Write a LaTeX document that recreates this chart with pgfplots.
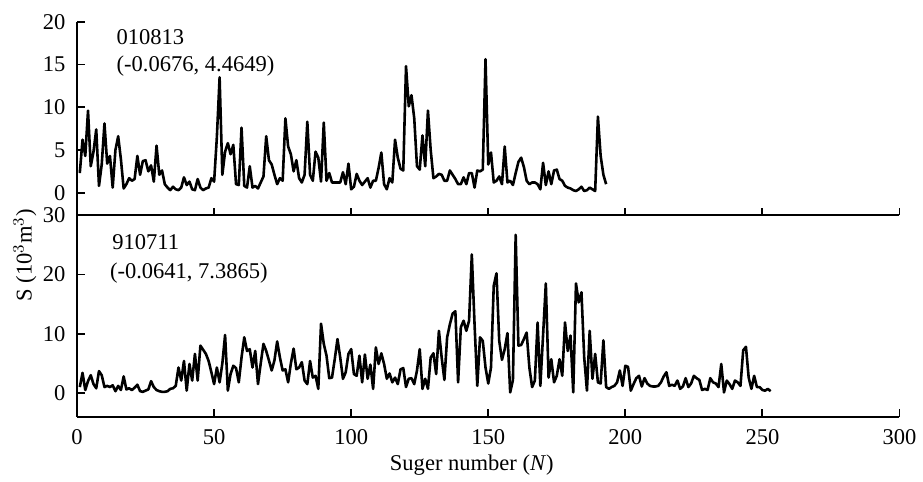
\documentclass[border=0pt]{standalone}
\usepackage{fontspec}
\setmainfont{Liberation Serif}
\usepackage{pgfplots}
\pgfplotsset{compat=1.18}
\pgfplotsset{
  common/.style={
    scale only axis, width=412.5pt,
    xmin=0, xmax=300,
    axis lines*=left,
    axis line style={line width=0.9pt},
    tick style={line width=0.9pt, black},
    tick align=inside,
    major tick length=3.75pt,
    xtick={0,50,...,300},
    /pgf/number format/assume math mode=true,
    tick label style={font=\fontsize{11.3}{13.5}\selectfont},
    label style={font=\fontsize{11.3}{13.5}\selectfont},
    yticklabel style={xshift=-2.3pt},
    xticklabel style={yshift=-2.8pt},
    clip=false,
  }
}
\begin{document}
\begin{tikzpicture}
\path (-38.65pt,-29.5pt) rectangle (422.85pt,209pt);
% bottom panel
\begin{axis}[common, at={(0,0)}, anchor=south west, height=101pt,
  ymin=-4, ymax=30, ytick={0,10,20,30},
  xlabel={Suger number (\textit{N})},
  xlabel style={at={(axis description cs:0.480,-0.240)}, anchor=center},
  ylabel={S (10$^{3}$m$^{3}$)},
  ylabel style={at={(axis description cs:-0.0635,0.802)}, anchor=center},
]
\addplot[black, line width=1.3pt, line join=round] coordinates {
(1,1.0)(2,3.4)(3,0.5)(4,2.0)(5,3.0)(6,1.5)(7,0.8)(8,3.7)(9,3.0)(10,1.0)
(11,1.2)(12,1.0)(13,1.3)(14,0.3)(15,1.2)(16,0.5)(17,2.8)(18,0.6)(19,0.8)(20,0.5)
(21,0.9)(22,1.4)(23,0.3)(24,0.2)(25,0.4)(26,0.6)(27,2.0)(28,1.0)(29,0.5)(30,0.3)
(31,0.2)(32,0.2)(33,0.3)(34,0.7)(35,0.8)(36,1.2)(37,4.3)(38,2.1)(39,5.4)(40,0.4)
(41,4.9)(42,2.1)(43,6.6)(44,2.1)(45,8.0)(46,7.3)(47,6.6)(48,5.4)(49,3.5)(50,1.5)
(51,4.3)(52,1.8)(53,5.0)(54,9.8)(55,0.4)(56,3.2)(57,4.6)(58,4.2)(59,1.8)(60,6.0)
(61,9.4)(62,7.1)(63,7.4)(64,4.3)(65,7.1)(66,1.5)(67,5.0)(68,8.3)(69,7.1)(70,5.5)
(71,3.8)(72,5.5)(73,8.7)(74,6.0)(75,3.8)(76,4.0)(77,1.8)(78,5.0)(79,7.5)(80,4.0)
(81,4.3)(82,5.2)(83,2.1)(84,1.5)(85,5.4)(86,2.6)(87,2.9)(88,0.7)(89,11.7)(90,8.3)
(91,6.3)(92,2.5)(93,2.6)(94,5.7)(95,9.1)(96,6.0)(97,2.4)(98,3.5)(99,6.6)(100,7.4)
(101,3.2)(102,2.9)(103,6.3)(104,1.8)(105,6.5)(106,2.4)(107,4.8)(108,0.7)(109,7.7)(110,4.9)
(111,6.7)(112,4.9)(113,2.4)(114,3.3)(115,1.8)(116,2.6)(117,1.5)(118,4.0)(119,4.2)(120,1.0)
(121,2.4)(122,2.5)(123,1.5)(124,3.8)(125,7.4)(126,0.7)(127,2.4)(128,0.7)(129,6.0)(130,6.7)
(131,3.2)(132,10.5)(133,6.0)(134,2.2)(135,9.4)(136,11.6)(137,13.4)(138,13.8)(139,1.8)(140,11.1)
(141,12.2)(142,10.5)(143,12.2)(144,23.4)(145,11.6)(146,1.2)(147,9.4)(148,8.8)(149,4.3)(150,1.6)
(151,4.3)(152,18.1)(153,20.2)(154,8.8)(155,5.6)(156,7.4)(157,10.1)(158,0.1)(159,2.2)(160,26.7)
(161,8.0)(162,8.1)(163,9.1)(164,10.2)(165,4.3)(166,1.0)(167,2.1)(168,11.9)(169,1.2)(170,9.8)
(171,18.5)(172,2.6)(173,5.7)(174,1.8)(175,2.9)(176,5.7)(177,2.9)(178,11.9)(179,7.1)(180,9.7)
(181,0.1)(182,18.5)(183,15.3)(184,17.0)(185,6.0)(186,0.4)(187,10.5)(188,2.4)(189,6.6)(190,1.8)
(191,1.6)(192,8.9)(193,1.0)(194,0.7)(195,1.0)(196,1.2)(197,1.8)(198,3.8)(199,1.2)(200,4.6)
(201,4.4)(202,0.4)(203,1.5)(204,2.5)(205,2.9)(206,1.1)(207,2.5)(208,1.6)(209,1.2)(210,1.1)
(211,1.1)(212,1.2)(213,1.8)(214,2.8)(215,3.5)(216,1.2)(217,1.4)(218,1.2)(219,2.1)(220,0.7)
(221,1.1)(222,2.5)(223,1.0)(224,1.6)(225,2.9)(226,2.5)(227,2.2)(228,0.5)(229,0.7)(230,0.5)
(231,2.5)(232,1.8)(233,1.6)(234,1.0)(235,4.9)(236,0.1)(237,2.1)(238,1.5)(239,0.7)(240,2.1)
(241,1.8)(242,1.2)(243,7.2)(244,7.8)(245,2.6)(246,0.7)(247,2.9)(248,1.0)(249,1.0)(250,0.5)
(251,0.4)(252,0.7)(253,0.3)
};
\node[anchor=base west, font=\fontsize{11.3}{13.5}\selectfont] at (axis description cs:0.0344,0.832) {910711};
\node[anchor=base west, font=\fontsize{11.3}{13.5}\selectfont] at (axis description cs:0.0315,0.688) {(-0.0641, 7.3865)};
\end{axis}
% top panel
\begin{axis}[common, at={(0,101pt)}, anchor=south west, height=97.15pt,
  ymin=-2.64, ymax=20, ytick={0,5,...,20},
  xticklabels={},
]
\addplot[black, line width=1.3pt, line join=round] coordinates {
(1,2.3)(2,6.2)(3,4.3)(4,9.6)(5,3.1)(6,4.8)(7,7.4)(8,0.8)(9,3.3)(10,8.1)
(11,3.4)(12,4.3)(13,0.6)(14,5.0)(15,6.6)(16,3.9)(17,0.5)(18,1.0)(19,1.7)(20,1.4)
(21,1.6)(22,4.3)(23,2.1)(24,3.7)(25,3.8)(26,2.5)(27,3.2)(28,1.3)(29,5.5)(30,2.1)
(31,2.6)(32,1.0)(33,0.6)(34,0.3)(35,0.7)(36,0.4)(37,0.3)(38,0.6)(39,1.8)(40,0.9)
(41,1.3)(42,0.4)(43,0.3)(44,1.6)(45,0.6)(46,0.3)(47,0.5)(48,0.6)(49,1.7)(50,1.3)
(51,6.5)(52,13.5)(53,2.1)(54,4.8)(55,5.8)(56,4.5)(57,5.6)(58,1.0)(59,0.9)(60,7.6)
(61,0.8)(62,0.6)(63,3.1)(64,0.6)(65,0.8)(66,0.5)(67,1.2)(68,1.9)(69,6.6)(70,3.8)
(71,3.3)(72,2.1)(73,1.0)(74,1.7)(75,1.4)(76,8.7)(77,5.4)(78,4.5)(79,2.5)(80,3.8)
(81,1.7)(82,1.2)(83,2.1)(84,8.3)(85,2.1)(86,1.4)(87,4.8)(88,4.1)(89,1.3)(90,8.2)
(91,1.4)(92,2.3)(93,1.2)(94,1.2)(95,1.2)(96,1.2)(97,2.4)(98,1.0)(99,3.4)(100,0.4)
(101,0.7)(102,2.2)(103,1.4)(104,0.9)(105,1.3)(106,1.7)(107,0.6)(108,1.4)(109,1.4)(110,2.9)
(111,4.7)(112,1.0)(113,0.4)(114,1.7)(115,1.2)(116,6.2)(117,4.1)(118,2.8)(119,2.6)(120,14.8)
(121,10.1)(122,11.4)(123,8.7)(124,3.1)(125,2.7)(126,6.7)(127,3.1)(128,9.6)(129,5.0)(130,1.7)
(131,1.9)(132,2.2)(133,2.1)(134,1.4)(135,1.4)(136,2.6)(137,2.1)(138,1.6)(139,1.0)(140,1.0)
(141,1.8)(142,1.0)(143,2.3)(144,2.3)(145,0.6)(146,2.6)(147,2.5)(148,2.7)(149,15.6)(150,3.3)
(151,4.7)(152,1.2)(153,1.4)(154,1.9)(155,1.0)(156,5.4)(157,1.2)(158,1.4)(159,0.9)(160,2.3)
(161,3.6)(162,4.1)(163,3.0)(164,1.4)(165,1.0)(166,1.2)(167,1.2)(168,1.0)(169,0.4)(170,3.5)
(171,0.9)(172,2.5)(173,1.0)(174,2.6)(175,2.7)(176,1.6)(177,1.4)(178,0.8)(179,0.6)(180,0.5)
(181,0.3)(182,0.2)(183,0.4)(184,0.7)(185,0.2)(186,0.3)(187,0.6)(188,0.4)(189,0.2)(190,8.9)
(191,4.3)(192,2.1)(193,1.0)
};
\node[anchor=base west, font=\fontsize{11.3}{13.5}\selectfont] at (axis description cs:0.0396,0.880) {010813};
\node[anchor=base west, font=\fontsize{11.3}{13.5}\selectfont] at (axis description cs:0.0396,0.744) {(-0.0676, 4.4649)};
\end{axis}
\end{tikzpicture}
\end{document}
